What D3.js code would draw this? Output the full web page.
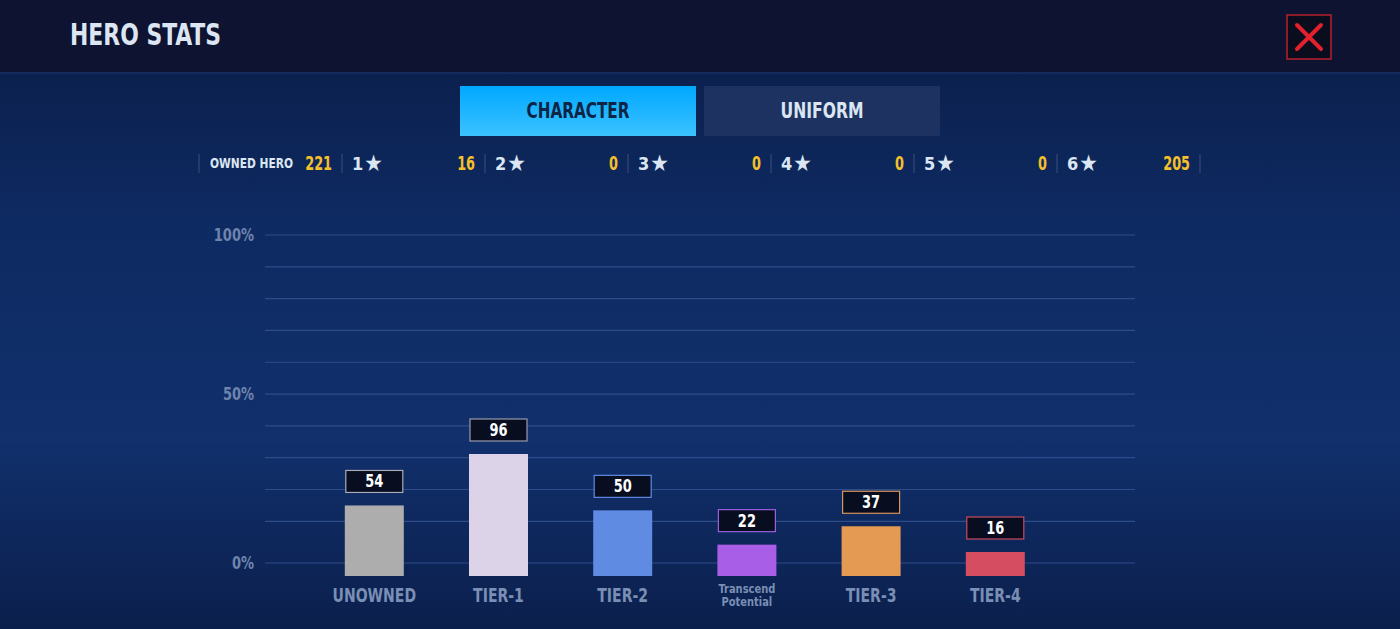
<!DOCTYPE html>
<html><head><meta charset="utf-8">
<script src="https://cdn.jsdelivr.net/npm/d3@7"></script>
<style>html,body{margin:0;padding:0;background:#0c1f48;overflow:hidden}svg{display:block}</style>
</head><body>
<script>
const title = "HERO STATS";
const tabs = ["CHARACTER", "UNIFORM"];
const statLabels = ["OWNED HERO", "1★", "2★", "3★", "4★", "5★", "6★"];
const statValues = [221, 16, 0, 0, 0, 0, 205];
const categories = ["UNOWNED", "TIER-1", "TIER-2", "Transcend Potential", "TIER-3", "TIER-4"];
const counts = [54, 96, 50, 22, 37, 16];
const barColors = ["#adadad", "#dcd3e8", "#5f8be3", "#a85ee6", "#e49a52", "#d54d60"];
const boxStroke = ["#a9acb8", "#9a9cb0", "#5f8be3", "#9a5ee0", "#d8955a", "#c84a60"];
const gridPercents = [100, 90, 80, 70, 60, 50, 40, 30, 20, 10, 0];
const tickLabels = [100, 50, 0];

const W = 1400, H = 629;
const font = "'DejaVu Sans Condensed','Liberation Sans Narrow','Roboto Condensed','DejaVu Sans',sans-serif";
const svg = d3.select("body").append("svg").attr("width", W).attr("height", H);
function squeeze(sel, f) {
  sel.each(function () {
    const L = this.getComputedTextLength();
    if (L > 0) d3.select(this).attr("textLength", L * f).attr("lengthAdjust", "spacingAndGlyphs");
  });
  return sel;
}
const defs = svg.append("defs");
const bg = defs.append("linearGradient").attr("id", "bg").attr("x1", 0).attr("y1", 0).attr("x2", 0).attr("y2", 1);
bg.append("stop").attr("offset", "0").attr("stop-color", "#0a1c44");
bg.append("stop").attr("offset", "0.35").attr("stop-color", "#0e2a62");
bg.append("stop").attr("offset", "0.7").attr("stop-color", "#11306c");
bg.append("stop").attr("offset", "1").attr("stop-color", "#0b1f4c");
const tg = defs.append("linearGradient").attr("id", "tab").attr("x1", 0).attr("y1", 0).attr("x2", 0).attr("y2", 1);
tg.append("stop").attr("offset", "0").attr("stop-color", "#00a8ff");
tg.append("stop").attr("offset", "1").attr("stop-color", "#3cc2ff");

svg.append("rect").attr("width", W).attr("height", H).attr("fill", "url(#bg)");
// header
svg.append("rect").attr("width", W).attr("height", 72).attr("fill", "#0d1330");
svg.append("rect").attr("y", 72).attr("width", W).attr("height", 2).attr("fill", "#142b5e");
svg.append("text").attr("x", 70).attr("y", 45).text(title)
  .attr("font-family", font).attr("font-weight", "bold").attr("font-size", 31)
  .attr("fill", "#dbe6f2").attr("textLength", 151).attr("lengthAdjust", "spacingAndGlyphs");
// close button
svg.append("rect").attr("x", 1287).attr("y", 15).attr("width", 44).attr("height", 44)
  .attr("fill", "#0a0d1e").attr("stroke", "#b8202c").attr("stroke-width", 1.5);
svg.append("path").attr("d", "M1297,25L1321,49M1321,25L1297,49")
  .attr("stroke", "#e3212d").attr("stroke-width", 4).attr("stroke-linecap", "round");

// tabs
const tabX = d3.scaleBand().domain(tabs).range([460, 940]).paddingInner(8 / 244);
tabs.forEach((t, i) => {
  svg.append("rect").attr("x", tabX(t)).attr("y", 86).attr("width", tabX.bandwidth()).attr("height", 50)
    .attr("fill", i === 0 ? "url(#tab)" : "#1d3260");
  svg.append("text").attr("x", tabX(t) + tabX.bandwidth() / 2).attr("y", 118).text(t)
    .attr("text-anchor", "middle").attr("font-family", font).attr("font-weight", "bold").attr("font-size", 21)
    .attr("fill", i === 0 ? "#0d2545" : "#dbe6f2")
    .attr("textLength", i === 0 ? 103 : 83).attr("lengthAdjust", "spacingAndGlyphs");
});

// stats row
const statX = d3.scaleLinear().domain([0, statLabels.length]).range([199, 1200]);
for (let i = 0; i <= statLabels.length; i++) {
  svg.append("line").attr("x1", statX(i)).attr("x2", statX(i)).attr("y1", 154).attr("y2", 173)
    .attr("stroke", "#3a4f7c").attr("stroke-width", 1);
}
statLabels.forEach((s, i) => {
  const x0 = statX(i), x1 = statX(i + 1);
  if (i === 0) {
    svg.append("text").attr("x", x0 + 11).attr("y", 168).text(s).attr("font-family", font)
      .attr("font-weight", "bold").attr("font-size", 14).attr("fill", "#dbe6f2")
      .attr("textLength", 83).attr("lengthAdjust", "spacingAndGlyphs");
  } else {
    const t = svg.append("text").attr("x", x0 + 10).attr("y", 170).attr("font-family", font)
      .attr("font-weight", "bold").attr("font-size", 18).attr("fill", "#dbe6f2");
    t.append("tspan").text(s.slice(0, -1));
    t.append("tspan").attr("dx", 1).attr("font-size", 23).attr("dy", 1).text(s.slice(-1));
  }
  squeeze(svg.append("text").attr("x", x1 - 10).attr("y", 170).text(statValues[i]).attr("text-anchor", "end")
    .attr("font-family", font).attr("font-weight", "bold").attr("font-size", 19).attr("fill", "#f5c02a"), 0.75);
});

// chart scales
const yGrid = d3.scaleLinear().domain([0, 10, 100]).range([563, 521.3, 235]);
const x = d3.scaleBand().domain(categories).range([312.2, 1057.4]).paddingInner(0.525).paddingOuter(0.2625);
const baseY = 576;
const yBar = d3.scaleLinear().domain([0, 100]).range([571.6, 449.1]);

svg.append("g").selectAll("line").data(gridPercents).join("line")
  .attr("x1", 265).attr("x2", 1135).attr("y1", d => yGrid(d)).attr("y2", d => yGrid(d))
  .attr("stroke", "#2f4c8a").attr("stroke-width", 1.2);
squeeze(svg.append("g").selectAll("text").data(tickLabels).join("text")
  .attr("x", 254).attr("y", d => yGrid(d) + 6).text(d => d + "%").attr("text-anchor", "end")
  .attr("font-family", font).attr("font-weight", "bold").attr("font-size", 17).attr("fill", "#6f84ad"), 0.85);

const g = svg.append("g");
categories.forEach((c, i) => {
  const bx = x(c), bw = x.bandwidth(), top = yBar(counts[i]);
  g.append("rect").attr("x", bx).attr("y", top).attr("width", bw).attr("height", baseY - top).attr("fill", barColors[i]);
  g.append("rect").attr("x", bx + 1).attr("y", top - 35).attr("width", bw - 2).attr("height", 22)
    .attr("fill", "#080e1f").attr("stroke", boxStroke[i]).attr("stroke-width", 1.2);
  squeeze(g.append("text").attr("x", bx + bw / 2).attr("y", top - 18).text(counts[i]).attr("text-anchor", "middle")
    .attr("font-family", font).attr("font-weight", "bold").attr("font-size", 17).attr("fill", "#ffffff"), 0.85);
  const cx = bx + bw / 2;
  if (c.includes(" ")) {
    c.split(" ").forEach((w, k) => {
      squeeze(g.append("text").attr("x", cx).attr("y", 593 + k * 13).text(w).attr("text-anchor", "middle")
        .attr("font-family", font).attr("font-weight", "bold").attr("font-size", 12.5).attr("fill", "#7a8fb5"), 0.88);
    });
  } else {
    squeeze(g.append("text").attr("x", cx).attr("y", 602).text(c).attr("text-anchor", "middle")
      .attr("font-family", font).attr("font-weight", "bold").attr("font-size", 20).attr("fill", "#7a8fb5"), 0.78);
  }
});
</script>
</body></html>
